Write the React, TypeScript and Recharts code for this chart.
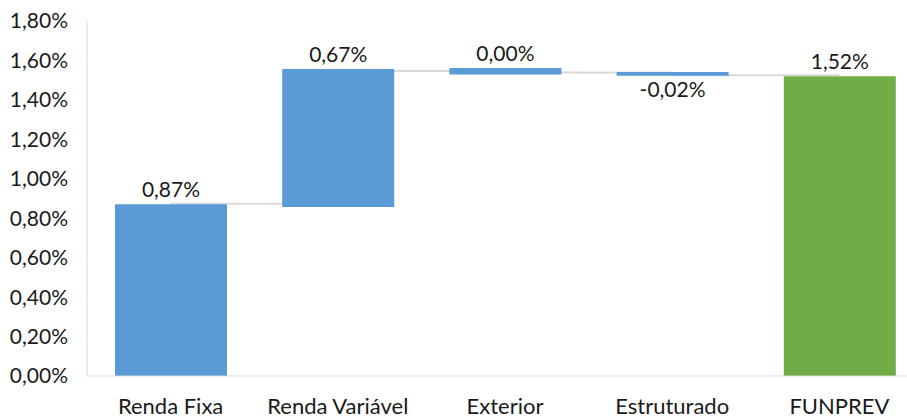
import React from "react";
import {
    BarChart,
    Bar,
    XAxis,
    YAxis,
    Cell,
    LabelList,
    ReferenceLine,
} from "recharts";

// waterfall: each bar runs from start to end (in %)
const categories = ["Renda Fixa", "Renda Variável", "Exterior", "Estruturado", "FUNPREV"];
const barStart = [0, 0.857, 1.529, 1.522, 0];
const barEnd = [0.871, 1.556, 1.562, 1.541, 1.52];
const labelText = ["0,87%", "0,67%", "0,00%", "-0,02%", "1,52%"];
const isTotal = [false, false, false, false, true];
// gray connector levels between consecutive bars
const connectors = [0.873, 1.546, 1.539, 1.525];
const yTicks = [0, 0.2, 0.4, 0.6, 0.8, 1.0, 1.2, 1.4, 1.6, 1.8];

const BLUE = "#5B9BD5";
const GREEN = "#70AD47";
const AXIS = "#d9d9d9";
const TEXT = "#1a1a1a";
const FONT = "Lato, 'Open Sans', sans-serif";

const data = categories.map((name, i) => ({
    name,
    base: Math.min(barStart[i], barEnd[i]),
    size: Math.abs(barEnd[i] - barStart[i]),
    label: labelText[i],
}));

const fmt = (v: number) => v.toFixed(2).replace(".", ",") + "%";

const renderLabel = (props: any) => {
    const { x, y, width, height, value } = props;
    const below = String(value).startsWith("-");
    const cx = Number(x) + Number(width) / 2;
    const ty = below ? Number(y) + Number(height) + 21 : Number(y) - 7;
    return (
        <text x={cx} y={ty} textAnchor="middle" fill={TEXT} fontSize={21} fontFamily={FONT}>
            {value}
        </text>
    );
};

export default function App() {
    return (
        <div style={{ position: "absolute", left: 0, top: 0, width: 907, height: 418, background: "#fff", overflow: "hidden" }}>
            <BarChart
                width={907}
                height={418}
                data={data}
                margin={{ top: 21, right: -16, bottom: 0, left: 0 }}
                style={{ fontFamily: FONT }}
            >
                <XAxis
                    dataKey="name"
                    height={42}
                    axisLine={{ stroke: AXIS }}
                    tickLine={false}
                    tick={{ fill: TEXT, fontSize: 22 }}
                    tickMargin={16}
                    interval={0}
                />
                <YAxis
                    domain={[0, 1.8]}
                    ticks={yTicks}
                    tickFormatter={fmt}
                    width={87}
                    axisLine={{ stroke: AXIS }}
                    tickLine={false}
                    tickSize={0}
                    tickMargin={19}
                    tick={{ fill: TEXT, fontSize: 21 }}
                />
                {connectors.map((v, i) => (
                    <ReferenceLine
                        key={i}
                        segment={[
                            { x: categories[i], y: v },
                            { x: categories[i + 1], y: v },
                        ]}
                        stroke={AXIS}
                        strokeWidth={2}
                        zIndex={-10}
                    />
                ))}
                <Bar dataKey="base" stackId="w" fill="transparent" barSize={112} isAnimationActive={false} />
                <Bar dataKey="size" stackId="w" barSize={112} isAnimationActive={false}>
                    {data.map((d, i) => (
                        <Cell key={d.name} fill={isTotal[i] ? GREEN : BLUE} />
                    ))}
                    <LabelList dataKey="label" content={renderLabel} />
                </Bar>
            </BarChart>
        </div>
    );
}
